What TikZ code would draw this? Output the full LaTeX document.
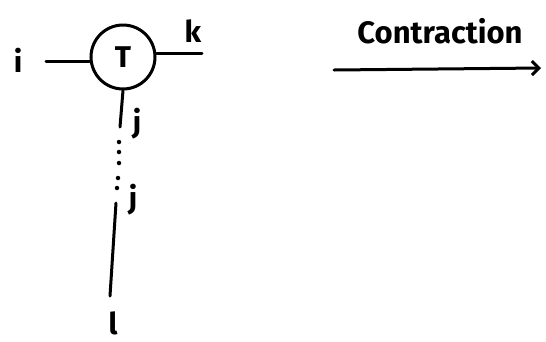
\documentclass[tikz,border=0pt]{standalone}
\usepackage{fontspec}
\setmainfont{Fira Sans}
\usetikzlibrary{arrows.meta}
\begin{document}
\begin{tikzpicture}[x=1pt,y=-1pt,
  leg/.style={line width=3pt,line cap=round},
  idx/.style={font=\fontsize{30}{30}\selectfont\bfseries,inner sep=0pt},
  dot/.style={circle,fill=black,inner sep=0pt,minimum size=4.5pt}]
\useasboundingbox (0,0) rectangle (546,341);
% tensor T with its legs
\node[draw,circle,line width=3pt,minimum size=64pt,inner sep=0pt,
      font=\fontsize{30}{30}\selectfont\bfseries] (T) at (123,57) {T};
\coordinate (iend) at (46,61);
\coordinate (kend) at (202,53);
\coordinate (jend) at (120,127);
\draw[leg] (iend) -- (T.west |- iend);
\draw[leg] (T.east |- kend) -- (kend);
\draw[leg] (T.south) -- (jend);
\node[idx] (li) at (18,60) {i};
\node[idx] (lk) at (193,31) {k};
\node[idx] (lj1) at (137,124) {j};
% dotted continuation of the j leg
\node[dot] (d1) at (119,142) {};
\node[dot] (d2) at (119,152) {};
\node[dot] (d3) at (119,163) {};
\node[dot] (d4) at (118,178) {};
\node[dot] (d5) at (117,188) {};
\node[idx] (lj2) at (133,200) {j};
% lower leg ending at l
\coordinate (ltop) at (116,203);
\coordinate (lbot) at (110,296);
\draw[leg] (ltop) -- (lbot);
\node[idx] (ll) at (113,323) {l};
% contraction arrow
\coordinate (a1) at (334,70);
\coordinate (a2) at (541,68);
\draw[leg,-{Straight Barb[length=7pt,width=14pt,line width=3pt]}] (a1) -- (a2);
\node[font=\fontsize{31}{31}\selectfont\bfseries,inner sep=0pt] (lc) at (440,31) {Contraction};
\end{tikzpicture}
\end{document}
